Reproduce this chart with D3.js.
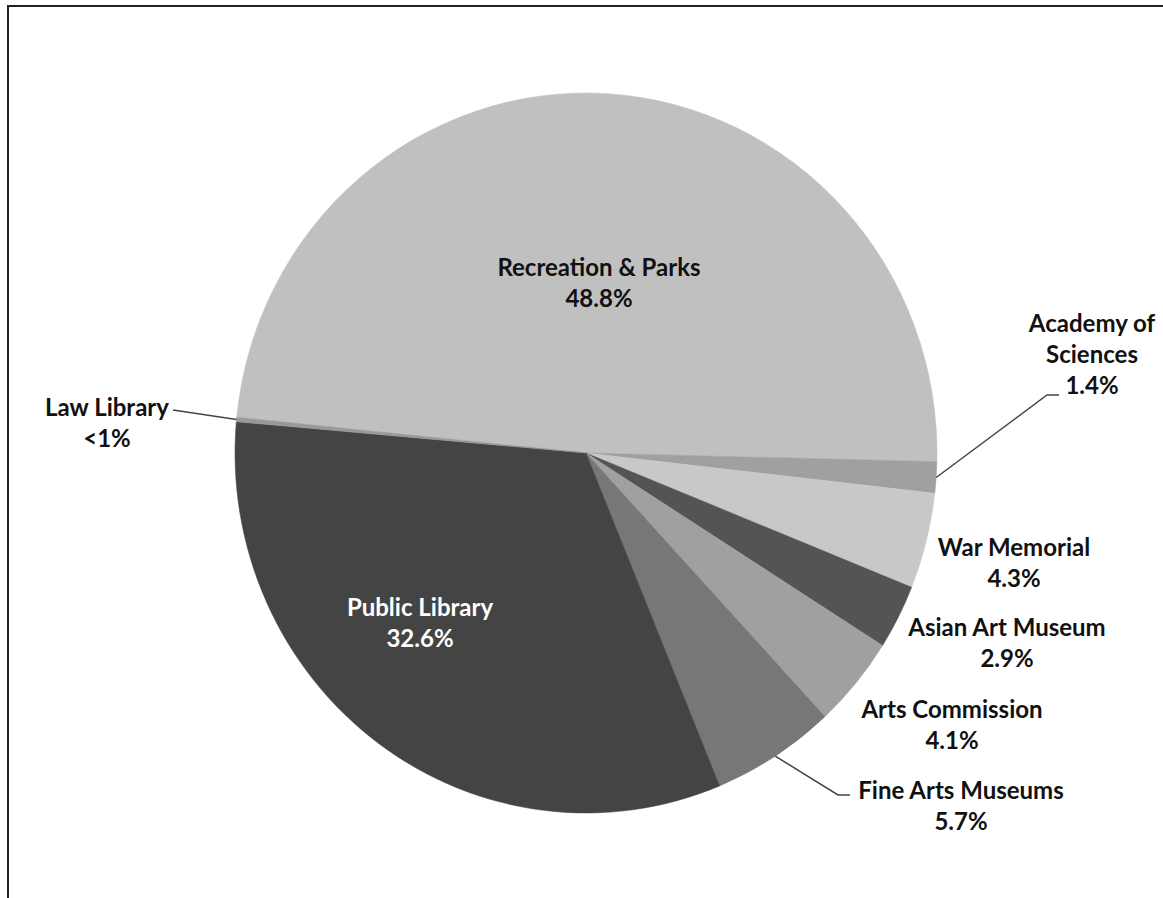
<!DOCTYPE html>
<html>
<head>
<meta charset="utf-8">
<script src="https://cdn.jsdelivr.net/npm/d3@7/dist/d3.min.js"></script>
<style>
html,body{margin:0;padding:0;background:#fff;}
svg{display:block;}
text{font-family:Lato,"Open Sans",sans-serif;font-weight:bold;}
</style>
</head>
<body>
<svg id="chart" width="1163" height="898"></svg>
<script>
// ---- data ----
const categories = ["Recreation & Parks","Academy of Sciences","War Memorial","Asian Art Museum","Arts Commission","Fine Arts Museums","Public Library","Law Library"];
const values = [48.8, 1.4, 4.3, 2.9, 4.1, 5.7, 32.6, 0.2];
const valueLabels = ["48.8%","1.4%","4.3%","2.9%","4.1%","5.7%","32.6%","<1%"];

// ---- styling / layout (not data) ----
const colors = ["#c0c0c0","#a0a0a0","#c8c8c8","#545454","#a0a0a0","#777777","#444444","#999999"];
const textColors = ["#111","#111","#111","#111","#111","#111","#fff","#111"];
// label lines & anchor positions (center x, first baseline y)
const labelLines = [["Recreation & Parks"],["Academy of","Sciences"],["War Memorial"],["Asian Art Museum"],["Arts Commission"],["Fine Arts Museums"],["Public Library"],["Law Library"]];
const labelPos = [[599,276],[1092,332],[1014,556],[1007,636],[952,718],[961,799],[420,616],[107,416]];
const lineH = 31;
// leader line elbows: [elbowX, elbowY, endX] or null
const leaders = [null,[1047,395,1059],null,null,null,[838,795,850],null,[173,410,173]];

const W = 1163, H = 898;
const cx = 586, cy = 453, rx = 351, ry = 360;
const svg = d3.select("#chart");

// frame
svg.append("line").attr("x1",8).attr("y1",6).attr("x2",8).attr("y2",H).attr("stroke","#222").attr("stroke-width",2);
svg.append("line").attr("x1",7).attr("y1",6).attr("x2",W).attr("y2",6).attr("stroke","#222").attr("stroke-width",2);

const startDeg = -84.3;
const pie = d3.pie().sort(null).value(d => d)
  .startAngle(startDeg*Math.PI/180).endAngle((startDeg+360)*Math.PI/180);
const arcs = pie(values);
const arc = d3.arc().innerRadius(0).outerRadius(rx);

const g = svg.append("g").attr("transform",`translate(${cx},${cy}) scale(1,${ry/rx})`);
g.selectAll("path").data(arcs).enter().append("path")
  .attr("d",arc).attr("fill",(d,i)=>colors[i]).attr("stroke",(d,i)=>colors[i]).attr("stroke-width",0.5);

// leader lines
arcs.forEach((a,i)=>{
  if(!leaders[i]) return;
  const m = (a.startAngle+a.endAngle)/2;
  const px = cx + rx*Math.sin(m), py = cy - ry*Math.cos(m);
  const [ex,ey,endX] = leaders[i];
  svg.append("path").attr("d",`M${px},${py}L${ex},${ey}L${endX},${ey}`)
    .attr("fill","none").attr("stroke","#444").attr("stroke-width",1.5);
});

// labels
arcs.forEach((a,i)=>{
  const [x,y] = labelPos[i];
  const t = svg.append("text").attr("text-anchor","middle").attr("font-size",24).attr("fill",textColors[i]);
  const lines = labelLines[i].concat([valueLabels[i]]);
  lines.forEach((s,k)=>{
    t.append("tspan").attr("x",x).attr("y",y+k*lineH).text(s);
  });
});
</script>
</body>
</html>
